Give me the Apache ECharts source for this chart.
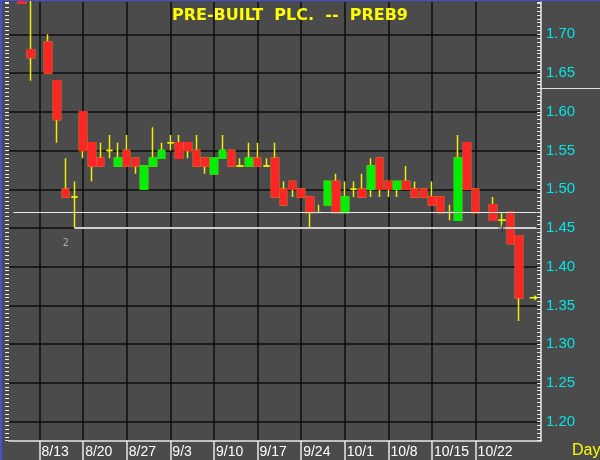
<!DOCTYPE html>
<html><head><meta charset="utf-8">
<script src="https://cdn.jsdelivr.net/npm/echarts@6/dist/echarts.min.js"></script>
<style>html,body{margin:0;padding:0;background:#4b4b4b}#c{width:600px;height:460px}</style>
</head><body><div id="c"></div>
<script>
const categories = ['8/8','8/9','8/10','8/13','8/14','8/15','8/16','8/17','8/20','8/21','8/22','8/23','8/24','8/27','8/28','8/29','8/30','8/31','9/3','9/4','9/5','9/6','9/7','9/10','9/11','9/12','9/13','9/14','9/17','9/18','9/19','9/20','9/21','9/24','9/25','9/26','9/27','9/28','10/1','10/2','10/3','10/4','10/5','10/8','10/9','10/10','10/11','10/12','10/15','10/16','10/17','10/18','10/19','10/22','10/23','10/24','10/25','10/26','10/29','10/30','10/31'];
const opens  = [null,1.75,1.68,null,1.69,1.64,1.50,1.49,1.60,1.56,1.54,1.55,1.53,1.55,1.54,1.50,1.53,1.54,1.56,1.56,1.56,1.55,1.54,1.52,1.54,1.55,1.53,1.53,1.54,1.53,1.54,1.50,1.51,1.50,1.49,1.47,1.48,1.51,1.47,1.50,1.50,1.50,1.54,1.51,1.50,1.51,1.50,1.50,1.49,1.49,1.47,1.46,1.56,1.50,null,1.48,1.46,1.47,1.44,null,null];
const closes = [null,1.74,1.67,null,1.65,1.59,1.49,1.49,1.55,1.53,1.53,1.55,1.54,1.53,1.53,1.53,1.54,1.55,1.56,1.54,1.55,1.53,1.53,1.54,1.55,1.53,1.53,1.54,1.53,1.53,1.49,1.48,1.50,1.49,1.47,1.47,1.51,1.47,1.49,1.50,1.49,1.53,1.50,1.50,1.51,1.50,1.49,1.49,1.48,1.47,1.47,1.54,1.50,1.47,null,1.46,1.46,1.43,1.36,null,null];
const lows   = [null,1.74,1.64,null,1.65,1.56,1.49,1.45,1.54,1.51,1.53,1.54,1.53,1.53,1.52,1.50,1.53,1.54,1.55,1.54,1.54,1.53,1.52,1.52,1.54,1.53,1.53,1.53,1.53,1.53,1.49,1.48,1.49,1.49,1.45,1.47,1.48,1.47,1.47,1.49,1.49,1.49,1.49,1.49,1.49,1.50,1.49,1.49,1.48,1.47,1.46,1.46,1.50,1.47,null,1.46,1.45,1.43,1.33,null,null];
const highs  = [null,1.75,1.75,null,1.70,1.64,1.54,1.51,1.60,1.56,1.56,1.57,1.56,1.57,1.54,1.53,1.58,1.56,1.57,1.57,1.56,1.57,1.54,1.54,1.57,1.55,1.54,1.56,1.56,1.54,1.56,1.51,1.51,1.50,1.49,1.48,1.51,1.52,1.51,1.51,1.52,1.54,1.54,1.51,1.51,1.53,1.51,1.50,1.51,1.49,1.48,1.57,1.56,1.50,null,1.49,1.47,1.47,1.44,null,null];
const tickLabels = ['8/13','8/20','8/27','9/3','9/10','9/17','9/24','10/1','10/8','10/15','10/22'];
const refLevel = 1.47;
const supportLevel = 1.45;
const priorHigh = 1.63;
const titleText = 'PRE-BUILT  PLC.  --  PREB9';

const YEL = '#eeee00', RED = '#ff2626', GRN = '#00ee00', BLU = '#2a2ad0';
const isWeek = (idx, val) => tickLabels.indexOf(val !== undefined ? val : categories[idx]) >= 0;

const wickData = categories.map((c, i) => opens[i] == null ? ['-','-','-','-'] : [opens[i], closes[i], lows[i], highs[i]]);
const bodyData = categories.map((c, i) => {
  if (opens[i] == null) return ['-','-','-','-'];
  const v = [opens[i], closes[i], Math.min(opens[i], closes[i]), Math.max(opens[i], closes[i])];
  if (opens[i] === closes[i]) {
    const dc = closes[i] === refLevel ? BLU : YEL;
    return {value: v, itemStyle: {borderColor: dc, borderColor0: dc, borderColorDoji: dc, color: dc, color0: dc}};
  }
  return v;
});
let lastIdx = 0; opens.forEach((o, i) => { if (o != null) lastIdx = i; });
const supportStart = lows.indexOf(supportLevel);
const supportTouch = lows.lastIndexOf(supportLevel);
const refStart = 0;

const yMin = 1.1755, yMax = 1.7417;
const chart = echarts.init(document.getElementById('c'), null, {renderer: 'canvas'});
const option = {
  animation: false,
  backgroundColor: '#4b4b4b',
  title: {text: titleText, left: 167, top: 3, textStyle: {color: '#ffff00', fontSize: 16, fontWeight: 'bold', fontFamily: 'DejaVu Sans'}},
  grid: {left: 9, right: 59, top: 2, bottom: 19.3, containLabel: false, outerBoundsMode: 'none'},
  xAxis: {
    type: 'category', data: categories, boundaryGap: true,
    axisLine: {show: true, lineStyle: {color: '#e8e8e8', width: 1.5}},
    axisTick: {show: true, alignWithLabel: true, length: 20, interval: isWeek, lineStyle: {color: '#e8e8e8', width: 1.5}},
    axisLabel: {show: true, interval: isWeek, color: '#ffffff', fontSize: 14, fontFamily: 'Liberation Sans, Arial', align: 'left', verticalAlign: 'top', margin: 4, padding: [0, 0, 0, 2], hideOverlap: false},
    splitLine: {show: true, interval: isWeek, alignWithLabel: true, lineStyle: {color: '#0c0c0c', width: 1.5}},
    name: 'Day', nameLocation: 'end', nameGap: 31,
    nameTextStyle: {color: '#ffff00', fontSize: 16, fontFamily: 'Liberation Sans, Arial', align: 'left', verticalAlign: 'top', padding: [2, 0, 0, 0]}
  },
  yAxis: [{
    type: 'value', position: 'right', min: yMin, max: yMax, splitNumber: 11, scale: true,
    axisLine: {show: true, lineStyle: {color: '#e8e8e8', width: 1.5}},
    axisTick: {show: true, inside: true, length: 4, lineStyle: {color: '#e8e8e8'}},
    minorTick: {show: true, splitNumber: 10, length: 4, lineStyle: {color: '#e8e8e8'}},
    axisLabel: {color: '#00e6e6', fontSize: 15, fontFamily: 'Liberation Sans, Arial', margin: 5, showMinLabel: false, showMaxLabel: false, formatter: v => v.toFixed(2)},
    splitLine: {show: true, showMinLine: false, showMaxLine: false, lineStyle: {color: '#0c0c0c', width: 1.5}}
  }, {
    type: 'value', position: 'left', min: yMin, max: yMax, splitNumber: 11, scale: true,
    axisLine: {show: false},
    axisTick: {show: true, inside: false, length: 4, lineStyle: {color: '#e8e8e8'}},
    minorTick: {show: true, splitNumber: 10, length: 4, lineStyle: {color: '#e8e8e8'}},
    axisLabel: {show: false},
    splitLine: {show: false}
  }],
  series: [{
    type: 'line', data: [], z: 1, silent: true,
    markLine: {
      silent: true, symbol: ['none', 'none'], label: {show: false}, animation: false,
      data: [
        [{coord: [categories[refStart], refLevel], lineStyle: {color: '#e6e6e6', width: 1, type: 'solid'}}, {coord: [categories[categories.length - 1], refLevel]}],
        [{coord: [categories[supportStart], supportLevel], lineStyle: {color: '#cfcfcf', width: 2, type: 'solid'}}, {coord: [categories[categories.length - 1], supportLevel]}]
      ]
    },
    markPoint: {
      silent: true, animation: false,
      data: [
        {coord: [categories[supportTouch], supportLevel], symbol: 'path://M0,4.5L9,4.5L9,5.5L0,5.5Z M4.5,0L5.5,0L5.5,10L4.5,10Z', symbolSize: 7, itemStyle: {color: '#111'}, label: {show: false}},
        {coord: [categories[6], 1.43], symbol: 'rect', symbolSize: 1, itemStyle: {color: 'transparent'}, label: {show: true, formatter: '2', color: '#aaaaaa', fontSize: 10, fontFamily: 'DejaVu Sans Mono', position: 'inside'}}
      ]
    }
  }, {
    type: 'candlestick', name: 'wick', data: wickData, z: 2, barWidth: 7, silent: true,
    itemStyle: {color: 'transparent', color0: 'transparent', borderColor: YEL, borderColor0: YEL, borderColorDoji: YEL, borderWidth: 1.5}
  }, {
    type: 'candlestick', name: 'body', data: bodyData, z: 3, barWidth: 7, silent: true,
    itemStyle: {color: GRN, color0: RED, borderColor: GRN, borderColor0: RED, borderColorDoji: YEL, borderWidth: 1.5},
    markPoint: {
      silent: true, animation: false,
      data: [{coord: [categories[categories.length - 1], closes[lastIdx]], symbol: 'path://M0,3L6,3L6,0L10,4L6,8L6,5L0,5Z', symbolSize: [8, 6], symbolOffset: [-3, 0], itemStyle: {color: '#ffff00'}, label: {show: false}}]
    }
  }]
};
chart.setOption(option);
const yPrior = chart.convertToPixel({yAxisIndex: 0}, priorHigh);
chart.setOption({
  graphic: [
    {type: 'rect', shape: {x: 0, y: 0, width: 2, height: 460}, style: {fill: '#4450d0'}, z: 100},
    {type: 'rect', shape: {x: 0, y: 0, width: 600, height: 1}, style: {fill: '#4450d0'}, z: 100},
    {type: 'line', shape: {x1: 541, y1: yPrior, x2: 600, y2: yPrior}, style: {stroke: '#e0e0e0', lineWidth: 1}, z: 100}
  ]
});
</script></body></html>
